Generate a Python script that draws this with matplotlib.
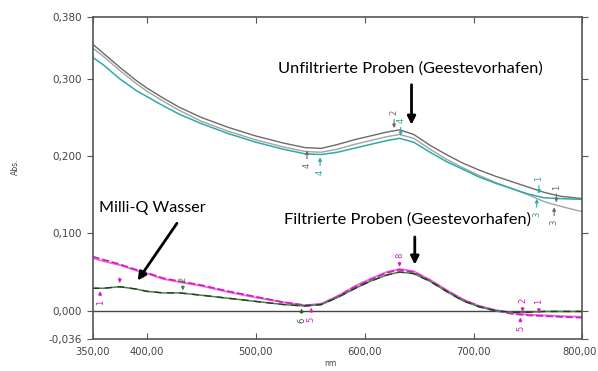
import numpy as np
import matplotlib
matplotlib.use("Agg")
import matplotlib.pyplot as plt
import matplotlib.transforms as mtransforms

# wavelength grid (nm)
wl = [350, 360, 375, 390, 400, 415, 430, 450, 475, 500, 525, 545, 560, 575, 590,
      605, 620, 632, 645, 660, 675, 690, 705, 720, 735, 750, 765, 780, 800]

# unfiltered samples (Geestevorhafen)
unf_dark = [0.345, 0.333, 0.315, 0.298, 0.288, 0.275, 0.263, 0.250, 0.237, 0.226,
            0.217, 0.211, 0.210, 0.215, 0.221, 0.226, 0.231, 0.234, 0.228, 0.214,
            0.202, 0.191, 0.182, 0.174, 0.167, 0.160, 0.153, 0.148, 0.145]
unf_light = [0.340, 0.329, 0.311, 0.294, 0.284, 0.271, 0.259, 0.245, 0.232, 0.221,
             0.212, 0.206, 0.205, 0.209, 0.215, 0.220, 0.225, 0.228, 0.223, 0.209,
             0.196, 0.185, 0.175, 0.166, 0.158, 0.150, 0.141, 0.135, 0.128]
unf_teal = [0.328, 0.318, 0.300, 0.285, 0.277, 0.265, 0.254, 0.242, 0.229, 0.218,
            0.209, 0.203, 0.202, 0.205, 0.210, 0.215, 0.220, 0.223, 0.218, 0.205,
            0.193, 0.183, 0.173, 0.165, 0.158, 0.151, 0.146, 0.145, 0.144]

# filtered samples
filt_a = [0.070, 0.066, 0.060, 0.053, 0.049, 0.042, 0.038, 0.033, 0.025, 0.018,
          0.011, 0.007, 0.008, 0.018, 0.030, 0.040, 0.049, 0.053, 0.050, 0.039,
          0.026, 0.014, 0.006, 0.000, -0.004, -0.006, -0.007, -0.008, -0.009]
filt_b = [0.068, 0.064, 0.059, 0.052, 0.048, 0.041, 0.037, 0.032, 0.024, 0.017,
          0.011, 0.007, 0.009, 0.019, 0.031, 0.041, 0.050, 0.054, 0.051, 0.040,
          0.027, 0.015, 0.006, 0.001, -0.003, -0.005, -0.006, -0.007, -0.008]

# Milli-Q water
milliq = [0.029, 0.029, 0.031, 0.028, 0.025, 0.023, 0.023, 0.020, 0.016, 0.012,
          0.008, 0.006, 0.008, 0.017, 0.028, 0.038, 0.046, 0.050, 0.048, 0.038,
          0.025, 0.013, 0.005, 0.000, -0.002, -0.002, -0.001, -0.001, -0.001]

yticks = [-0.036, 0.0, 0.1, 0.2, 0.3, 0.38]
ylabels = ["-0,036", "0,000", "0,100", "0,200", "0,300", "0,380"]
xticks = [350, 400, 500, 600, 700, 800]
xlabels = ["350,00", "400,00", "500,00", "600,00", "700,00", "800,00"]

c_dark = "#6b6b6b"
c_light = "#a3a3a3"
c_teal = "#2fa9a9"
c_mag = "#d21fc4"
c_pink = "#e870dc"
c_green = "#3c8c3c"

# peak picks: (series, wavelength, label, colour, above?)
picks = [
    (unf_dark, 547, "4", c_dark, False),
    (unf_teal, 559, "4", c_teal, False),
    (unf_dark, 627, "2", c_dark, True),
    (unf_teal, 633, "4", c_teal, True),
    (unf_teal, 760, "1", c_teal, True),
    (unf_teal, 758, "3", c_teal, False),
    (unf_light, 776, "1", c_dark, True),
    (unf_light, 774, "3", c_dark, False),
    (milliq, 357, "1", c_mag, False),
    (milliq, 433, "2", c_green, True),
    (milliq, 542, "6", "#2b5a2b", False),
    (filt_a, 551, "5", c_mag, False),
    (filt_a, 632, "8", c_mag, True),
    (filt_a, 745, "2", c_mag, True),
    (filt_a, 743, "5", c_mag, False),
    (filt_a, 760, "1", c_mag, True),
]

fig = plt.figure(figsize=(5.98, 3.71), dpi=100)
ax = fig.add_axes([0.1547, 0.0876, 0.8193, 0.8666])

ax.axhline(0, color="#444444", lw=1.0, zorder=1)

ax.plot(wl, unf_dark, color=c_dark, lw=1.0)
ax.plot(wl, unf_light, color=c_light, lw=1.0)
ax.plot(wl, unf_teal, color=c_teal, lw=1.1)
ax.plot(wl, filt_b, color=c_pink, lw=1.3)
ax.plot(wl, filt_a, color=c_mag, lw=1.3, dashes=(4, 1.5))
ax.plot(wl, milliq, color=c_green, lw=1.1)
ax.plot(wl, milliq, color="#333333", lw=1.0, dashes=(5, 4))

for series, x, lab, col, above in picks:
    yc = np.interp(x, wl, series)
    span = 0.018 if yc > 0.1 else 0.013
    if above:
        ax.annotate("", xy=(x, yc), xytext=(x, yc + span),
                    arrowprops=dict(arrowstyle="-|>", color=col, lw=0.8, mutation_scale=5))
        ax.text(x, yc + span + 0.002, lab, color=col, fontsize=6, rotation=90,
                ha="center", va="bottom")
    else:
        ax.annotate("", xy=(x, yc), xytext=(x, yc - span),
                    arrowprops=dict(arrowstyle="-|>", color=col, lw=0.8, mutation_scale=5))
        ax.text(x, yc - span - 0.002, lab, color=col, fontsize=6, rotation=90,
                ha="center", va="top")

# magenta pick pointing at the Milli-Q maximum
ax.annotate("", xy=(375, 0.032), xytext=(375, 0.046),
            arrowprops=dict(arrowstyle="-|>", color=c_mag, lw=0.8, mutation_scale=5))

# descriptive labels
ax.text(642, 0.313, "Unfiltrierte Proben (Geestevorhafen)", fontsize=11.8,
        family="Lato", ha="center", va="center")
ax.annotate("", xy=(643, 0.237), xytext=(643, 0.296),
            arrowprops=dict(arrowstyle="-|>", color="black", lw=2, mutation_scale=12))
ax.text(639, 0.118, "Filtrierte Proben (Geestevorhafen)", fontsize=11.8,
        family="Lato", ha="center", va="center")
ax.annotate("", xy=(646, 0.056), xytext=(646, 0.099),
            arrowprops=dict(arrowstyle="-|>", color="black", lw=2, mutation_scale=12))
ax.text(405, 0.133, "Milli-Q Wasser", fontsize=11.6, family="Lato",
        ha="center", va="center")
ax.annotate("", xy=(390, 0.036), xytext=(429, 0.116),
            arrowprops=dict(arrowstyle="-|>", color="black", lw=2, mutation_scale=12))

ax.set_xlim(350, 800)
ax.set_ylim(-0.036, 0.38)
ax.set_yticks(yticks)
ax.set_yticklabels(ylabels)
ax.set_xticks(xticks)
ax.set_xticklabels(xlabels)
ax.tick_params(axis="y", direction="out", length=4, labelsize=7.5,
               labelcolor="#444444", color="#555555")
ax.tick_params(axis="x", direction="in", length=4, labelsize=7.2,
               labelcolor="#444444", color="#555555", pad=6)
ax.tick_params(top=True, right=True)
for sp in ax.spines.values():
    sp.set_color("#555555")
    sp.set_linewidth(1.2)

# nudge the last x label so it stays inside the figure
last = ax.get_xticklabels()[-1]
last.set_transform(last.get_transform() +
                   mtransforms.ScaledTranslation(-3 / 100, 0, fig.dpi_scale_trans))

fig.text(0.026, 0.55, "Abs.", rotation=90, fontsize=5.5, ha="center", va="center",
         color="#444444")
fig.text(0.552, 0.008, "nm", fontsize=5.5, ha="center", va="bottom", color="#444444")

fig.savefig("out.png", dpi=100)
